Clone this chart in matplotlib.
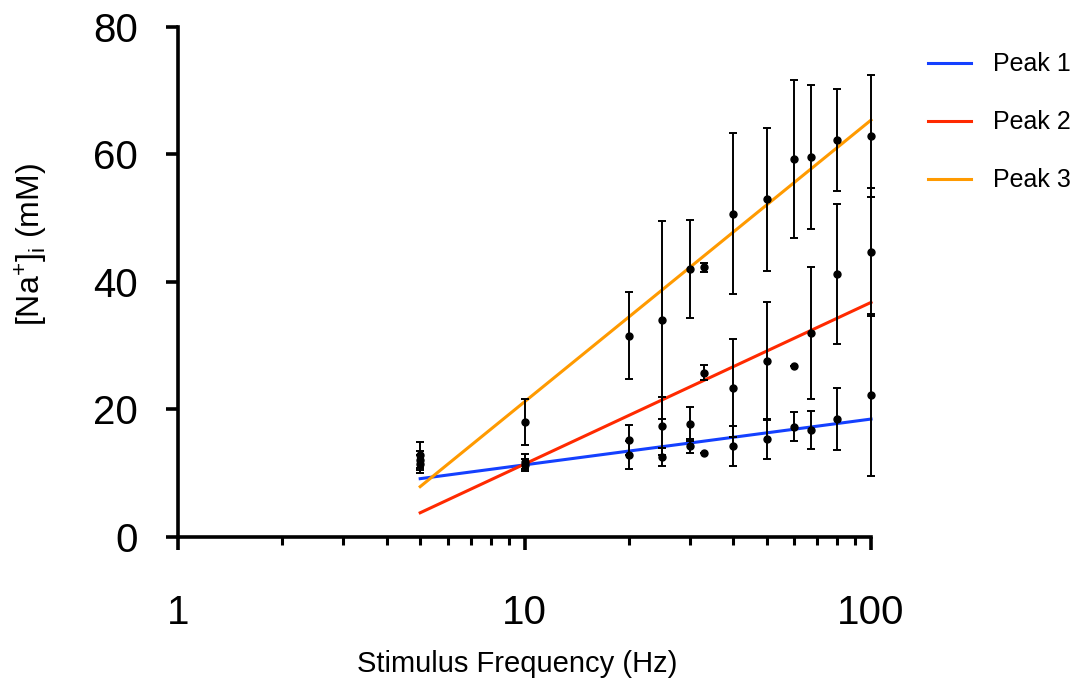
""" [Na+]i vs stimulus frequency, three peaks with log fits. """

import numpy as np
import matplotlib.pyplot as plt
from matplotlib.ticker import FixedLocator, LogLocator, NullFormatter

plt.rcParams["font.family"] = ["Liberation Sans", "DejaVu Sans"]
plt.rcParams["mathtext.fontset"] = "custom"
plt.rcParams["mathtext.rm"] = "Liberation Sans"

freq = [5, 10, 20, 25, 30, 33, 40, 50, 60, 67, 80, 100]

peak1_mean = [11.5, 11.3, 12.9, 12.6, 14.2, 13.1, 14.3, 15.4, 17.3, 16.8, 18.5, 22.3]
peak1_err = [1.4, 1.0, 2.2, 1.4, 1.1, 0.0, 3.1, 3.1, 2.3, 3.0, 4.9, 12.7]

peak2_mean = [12.9, 11.8, 15.2, 17.4, 17.7, 25.8, 23.4, 27.6, 26.9, 32.0, 41.3, 44.7]
peak2_err = [2.0, 1.2, 2.3, 4.5, 2.7, 1.2, 7.7, 9.2, 0.0, 10.3, 11.0, 10.1]

peak3_mean = [12.0, 18.0, 31.6, 34.0, 42.0, 42.3, 50.7, 53.0, 59.3, 59.6, 62.2, 62.9]
peak3_err = [1.5, 3.6, 6.8, 15.5, 7.7, 0.7, 12.6, 11.2, 12.4, 11.3, 8.0, 9.6]

# fitted lines (value at 5 Hz and at 100 Hz), straight on the log axis
fit_freq = [5, 100]
fit_vals = {
    "Peak 1": [9.15, 18.5],
    "Peak 2": [3.8, 36.8],
    "Peak 3": [7.9, 65.4],
}
colors = {"Peak 1": "#1440FF", "Peak 2": "#FF2A00", "Peak 3": "#FF9A00"}


def main(output_file):
    fig = plt.figure(figsize=(10.8, 6.8), dpi=100)
    ax = fig.add_axes([0.1648, 0.2103, 0.6417, 0.75])

    handles = []
    for name, vals in fit_vals.items():
        h, = ax.plot(fit_freq, vals, color=colors[name], lw=2.2, zorder=2,
                     label=name, clip_on=False)
        handles.append(h)

    for mean, err in [(peak1_mean, peak1_err), (peak2_mean, peak2_err), (peak3_mean, peak3_err)]:
        cont = ax.errorbar(freq, mean, yerr=err, fmt="o", color="black", ms=5,
                           elinewidth=1.4, capsize=3, capthick=1.4, zorder=3)
        for art in cont.get_children():
            art.set_clip_on(False)

    ax.set_xscale("log")
    ax.set_xlim(1, 100)
    ax.set_ylim(0, 80)
    ax.xaxis.set_major_locator(FixedLocator([1, 10, 100]))
    ax.set_xticklabels(["1", "10", "100"])
    ax.xaxis.set_minor_locator(LogLocator(base=10, subs=np.arange(2, 10)))
    ax.xaxis.set_minor_formatter(NullFormatter())
    ax.set_yticks([0, 20, 40, 60, 80])

    for s in ["top", "right"]:
        ax.spines[s].set_visible(False)
    for s in ["left", "bottom"]:
        ax.spines[s].set_linewidth(2.6)

    ax.tick_params(axis="both", which="major", length=9, width=2.6, labelsize=29)
    ax.tick_params(axis="x", which="major", pad=32)
    ax.tick_params(axis="y", which="major", pad=20)
    ax.tick_params(axis="x", which="minor", length=5.5, width=2.2)

    ax.set_xlabel("Stimulus Frequency (Hz)", fontsize=21)
    ax.xaxis.set_label_coords(0.49, -0.222)
    ax.set_ylabel(r"[Na$^{+}$]$_{\mathrm{i}}$ (mM)", fontsize=23)
    ax.yaxis.set_label_coords(-0.186, 0.573)

    fig.legend(handles=handles, loc="upper left", bbox_to_anchor=(0.859, 0.923),
               frameon=False, fontsize=18, handlelength=1.72, handletextpad=0.88,
               labelspacing=1.36, borderpad=0, borderaxespad=0)

    plt.savefig(output_file, dpi=100)


if __name__ == "__main__":
    main("out.png")
